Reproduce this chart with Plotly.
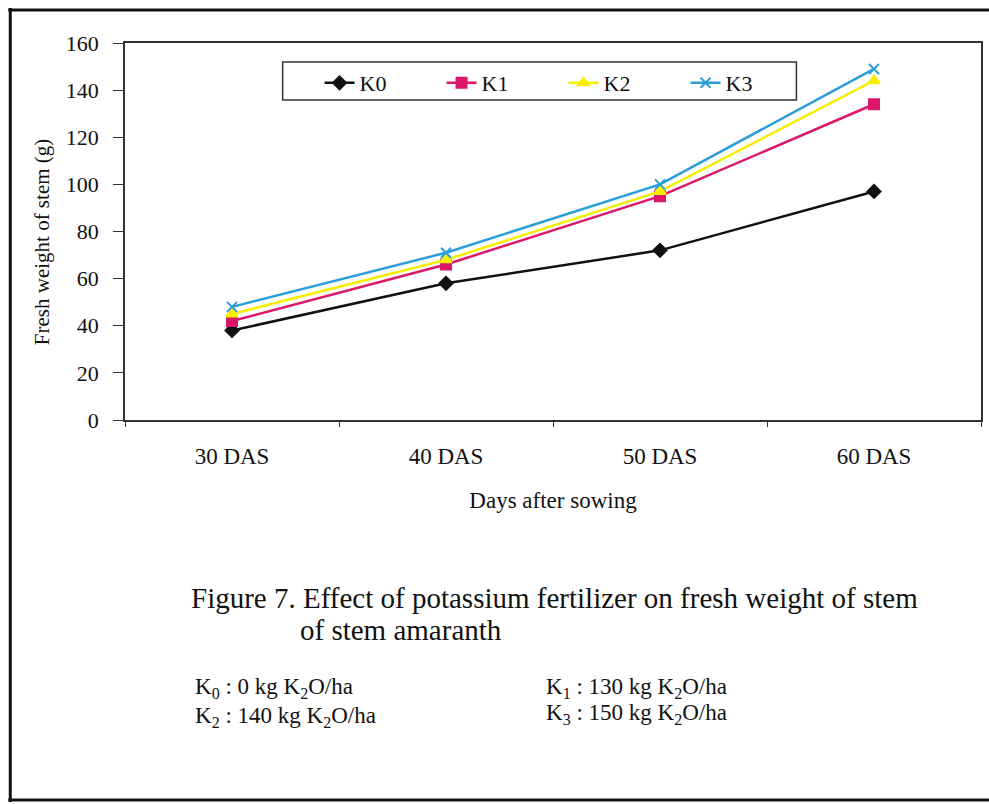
import plotly.graph_objects as go

categories = ["30 DAS", "40 DAS", "50 DAS", "60 DAS"]
k0 = [38, 58, 72, 97]
k1 = [42, 66, 95, 134]
k2 = [45, 68, 97, 144]
k3 = [48, 71, 100, 149]
series_names = ["K0", "K1", "K2", "K3"]
y_ticks = [0, 20, 40, 60, 80, 100, 120, 140, 160]

W, H = 989, 804
L, R, T, B = 125, 983, 43, 420

def px(x):
    return (x - L) / (R - L)

def py(y):
    return (B - y) / (B - T)

FONT = "Liberation Serif"
TXT = "#111111"
fig = go.Figure()
styles = [
    dict(color="#111111", symbol="diamond", size=10),
    dict(color="#DC1769", symbol="square", size=10),
    dict(color="#F7EE00", symbol="triangle-up", size=10),
    dict(color="#2B9ED8", symbol="x-thin", size=10),
]
for name, vals, st in zip(series_names, [k0, k1, k2, k3], styles):
    fig.add_trace(go.Scatter(
        x=categories, y=vals, name=name, mode="lines+markers",
        line=dict(color=st["color"], width=2.5),
        marker=dict(symbol=st["symbol"], size=st["size"], color=st["color"],
                    line=dict(color=st["color"], width=2)),
    ))

fig.update_layout(
    width=W, height=H,
    margin=dict(l=L, r=W - R, t=T, b=H - B),
    paper_bgcolor="white", plot_bgcolor="white",
    font=dict(family=FONT, color=TXT, size=22),
    showlegend=True,
    legend=dict(
        orientation="h", x=px(320), y=py(62), xanchor="left", yanchor="top",
        borderwidth=0, bgcolor="rgba(0,0,0,0)",
        font=dict(family=FONT, size=22, color=TXT), entrywidth=77,
        entrywidthmode="pixels", itemclick=False,
    ),
    xaxis=dict(
        type="category", range=[-0.5, 3.5], showline=True, linecolor="#333333",
        linewidth=1.5, mirror=True, ticks="outside", ticklen=5,
        tickcolor="#333333", tickson="boundaries", showgrid=False,
        ticklabelstandoff=15,
        tickfont=dict(family=FONT, size=23, color=TXT),
        title=dict(text="Days after sowing", standoff=24,
                   font=dict(family=FONT, size=23, color=TXT)),
        fixedrange=True,
    ),
    yaxis=dict(
        range=[0, 160], tickvals=y_ticks, showline=True, linecolor="#333333",
        linewidth=1.5, mirror=True, ticks="outside", ticklen=10,
        tickcolor="#333333", showgrid=False, zeroline=False,
        ticklabelstandoff=10,
        tickfont=dict(family=FONT, size=22, color=TXT),
        fixedrange=True,
    ),
)

# y-axis title
fig.add_annotation(xref="paper", yref="paper", x=px(42), y=py(242),
                   xanchor="center", yanchor="middle", showarrow=False,
                   textangle=-90, text="Fresh weight of stem (g)",
                   font=dict(family=FONT, size=21, color=TXT))

# legend box
fig.add_shape(type="rect", xref="paper", yref="paper", layer="above",
              x0=px(283), y0=py(100), x1=px(798), y1=py(62),
              line=dict(color="#333333", width=1.5), fillcolor="white")

# outer frame (top, left, bottom)
for x0, y0, x1, y1 in [(8, 10, 995, 10), (10, 8, 10, 802), (8, 800, 995, 800)]:
    fig.add_shape(type="line", xref="paper", yref="paper",
                  x0=px(x0), y0=py(y0), x1=px(x1), y1=py(y1),
                  line=dict(color="#111111", width=3))

notes = [
    (189, 598, "Figure 7. Effect of potassium fertilizer on fresh weight of stem", 29),
    (298, 630, "of stem amaranth", 29),
    (193, 688, "K<sub>0</sub> : 0 kg K<sub>2</sub>O/ha", 23),
    (193, 717, "K<sub>2</sub> : 140 kg K<sub>2</sub>O/ha", 23),
    (545, 688, "K<sub>1</sub> : 130 kg K<sub>2</sub>O/ha", 23),
    (545, 714, "K<sub>3</sub> : 150 kg K<sub>2</sub>O/ha", 23),
]
for x, y, text, size in notes:
    fig.add_annotation(xref="paper", yref="paper", x=px(x), y=py(y),
                       xanchor="left", yanchor="middle", showarrow=False,
                       text=text, font=dict(family=FONT, size=size, color=TXT))

fig.write_html("out.html")
